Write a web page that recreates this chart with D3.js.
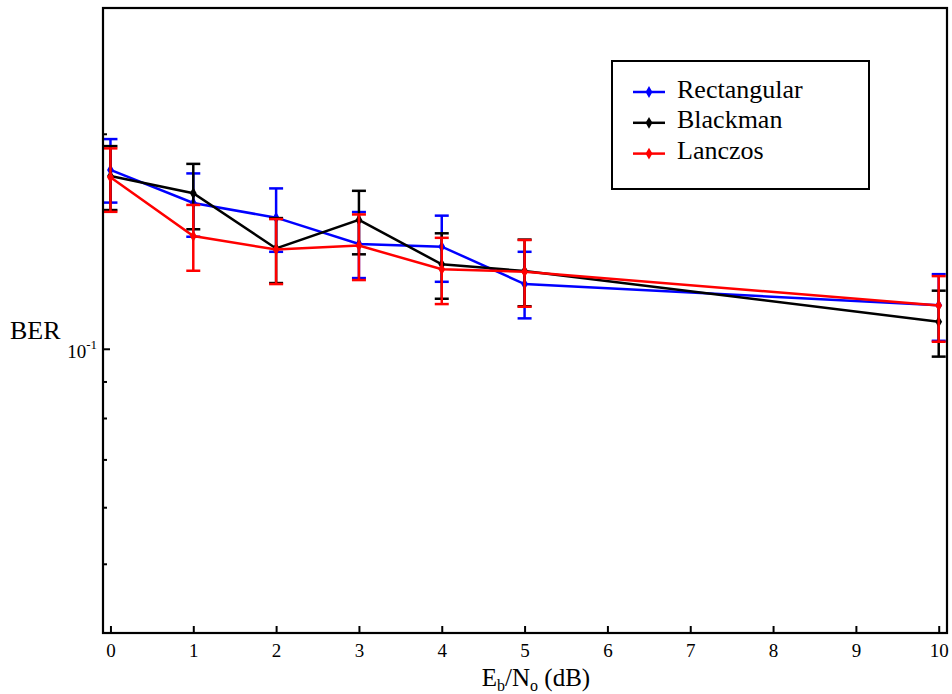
<!DOCTYPE html>
<html>
<head>
<meta charset="utf-8">
<script src="https://cdn.jsdelivr.net/npm/d3@7"></script>
<style>
  html, body { margin: 0; padding: 0; background: #fff; }
  svg { display: block; font-family: "Liberation Serif", "Times New Roman", serif; }
</style>
</head>
<body>
<svg id="chart" width="952" height="694"></svg>
<script>
// ---- data ----
const snr = [0, 1, 2, 3, 4, 5, 10];
const xTicks = [0, 1, 2, 3, 4, 5, 6, 7, 8, 9, 10];
const yMinorTicks = [0.05, 0.06, 0.07, 0.08, 0.09, 0.2];
const yMajorTicks = [0.1];

const rectMean = [0.1780, 0.1600, 0.1526, 0.1402, 0.1390, 0.1232, 0.1151];
const rectLow  = [0.1602, 0.1435, 0.1367, 0.1256, 0.1241, 0.1103, 0.1026];
const rectHigh = [0.1966, 0.1760, 0.1677, 0.1554, 0.1536, 0.1367, 0.1272];

const blackMean = [0.1745, 0.1651, 0.1382, 0.1515, 0.1313, 0.1285, 0.1091];
const blackLow  = [0.1564, 0.1470, 0.1236, 0.1356, 0.1175, 0.1147, 0.0975];
const blackHigh = [0.1922, 0.1815, 0.1524, 0.1664, 0.1451, 0.1422, 0.1206];

const lancMean = [0.1738, 0.1438, 0.1377, 0.1395, 0.1292, 0.1282, 0.1150];
const lancLow  = [0.1555, 0.1286, 0.1232, 0.1248, 0.1155, 0.1145, 0.1023];
const lancHigh = [0.1908, 0.1590, 0.1519, 0.1542, 0.1430, 0.1420, 0.1264];

const seriesNames = ["Rectangular", "Blackman", "Lanczos"];
const seriesColors = ["#0000ff", "#000000", "#ff0000"];

// ---- layout ----
const L = 103, R = 947, T = 8, B = 633;
const svg = d3.select("#chart");

const x = d3.scaleLinear().domain([-0.09, 10.1]).range([L, R]);
const y = d3.scaleLog().domain([0.04, 0.3]).range([B, T]);

const series = [
  { name: seriesNames[0], color: seriesColors[0], mean: rectMean, low: rectLow, high: rectHigh },
  { name: seriesNames[1], color: seriesColors[1], mean: blackMean, low: blackLow, high: blackHigh },
  { name: seriesNames[2], color: seriesColors[2], mean: lancMean, low: lancLow, high: lancHigh }
];

// ---- series ----
const line = d3.line().x(d => x(d.x)).y(d => y(d.v));
const diamond = d3.symbol().type(d3.symbolDiamond).size(40);
const capHalf = 7;

series.forEach(s => {
  const pts = snr.map((v, i) => ({ x: v, v: s.mean[i], lo: s.low[i], hi: s.high[i] }));
  const g = svg.append("g");
  g.append("path").datum(pts)
    .attr("d", line).attr("fill", "none")
    .attr("stroke", s.color).attr("stroke-width", 2.5);
  const eb = g.selectAll(".eb").data(pts).enter().append("g");
  eb.append("line")
    .attr("x1", d => x(d.x)).attr("x2", d => x(d.x))
    .attr("y1", d => y(d.lo)).attr("y2", d => y(d.hi))
    .attr("stroke", s.color).attr("stroke-width", 2.5);
  eb.append("line")
    .attr("x1", d => x(d.x) - capHalf).attr("x2", d => x(d.x) + capHalf)
    .attr("y1", d => y(d.lo)).attr("y2", d => y(d.lo))
    .attr("stroke", s.color).attr("stroke-width", 2.5);
  eb.append("line")
    .attr("x1", d => x(d.x) - capHalf).attr("x2", d => x(d.x) + capHalf)
    .attr("y1", d => y(d.hi)).attr("y2", d => y(d.hi))
    .attr("stroke", s.color).attr("stroke-width", 2.5);
  g.selectAll(".mk").data(pts).enter().append("path")
    .attr("d", diamond)
    .attr("transform", d => `translate(${x(d.x)},${y(d.v)})`)
    .attr("fill", s.color);
});

// ---- axes ----
const xAxis = d3.axisBottom(x).tickValues(xTicks).tickSizeInner(-7).tickSizeOuter(0).tickPadding(11)
  .tickFormat(d3.format("d"));
const gx = svg.append("g").attr("transform", `translate(0,${B})`).call(xAxis);
gx.select(".domain").remove();
gx.selectAll(".tick line").attr("stroke", "#000").attr("stroke-width", 2);
gx.selectAll(".tick text").attr("font-size", 19).attr("font-family", "Liberation Serif").attr("fill", "#000");

const yMinor = d3.axisLeft(y).tickValues(yMinorTicks).tickSizeInner(-4).tickSizeOuter(0).tickFormat("");
const gyMin = svg.append("g").attr("transform", `translate(${L},0)`).call(yMinor);
gyMin.select(".domain").remove();
gyMin.selectAll(".tick line").attr("stroke", "#000").attr("stroke-width", 2);

const yMajor = d3.axisLeft(y).tickValues(yMajorTicks).tickSizeInner(-7).tickSizeOuter(0).tickFormat("");
const gyMaj = svg.append("g").attr("transform", `translate(${L},0)`).call(yMajor);
gyMaj.select(".domain").remove();
gyMaj.selectAll(".tick line").attr("stroke", "#000").attr("stroke-width", 2);

// 10^-1 label
yMajorTicks.forEach(v => {
  const t = svg.append("text")
    .attr("x", L - 6).attr("y", y(v) + 9)
    .attr("text-anchor", "end")
    .attr("font-size", 19).attr("fill", "#000");
  t.append("tspan").text("10");
  t.append("tspan").attr("font-size", 13).attr("dy", -9).text("-" + Math.round(-Math.log10(v)));
});

// frame
svg.append("rect").attr("x", L).attr("y", T).attr("width", R - L).attr("height", B - T)
  .attr("fill", "none").attr("stroke", "#000").attr("stroke-width", 2.2);

// axis titles
svg.append("text").attr("x", 10).attr("y", 339).attr("font-size", 26).attr("fill", "#000").text("BER");

const xl = svg.append("text").attr("x", 536).attr("y", 686).attr("text-anchor", "middle")
  .attr("font-size", 25).attr("fill", "#000");
xl.append("tspan").text("E");
xl.append("tspan").attr("font-size", 16).attr("dy", 5).text("b");
xl.append("tspan").attr("dy", -5).text("/N");
xl.append("tspan").attr("font-size", 16).attr("dy", 5).text("o");
xl.append("tspan").attr("dy", -5).text(" (dB)");

// legend
const lg = svg.append("g");
lg.append("rect").attr("x", 612).attr("y", 61).attr("width", 257).attr("height", 128)
  .attr("fill", "#fff").attr("stroke", "#000").attr("stroke-width", 2);
series.forEach((s, i) => {
  const ly = 92 + i * 30.8;
  lg.append("line").attr("x1", 633).attr("x2", 665).attr("y1", ly).attr("y2", ly)
    .attr("stroke", s.color).attr("stroke-width", 2.5);
  lg.append("path").attr("d", diamond).attr("transform", `translate(649,${ly})`).attr("fill", s.color);
  lg.append("text").attr("x", 677).attr("y", ly + 5.5).attr("font-size", 26).attr("fill", "#000").text(s.name);
});
</script>
</body>
</html>
